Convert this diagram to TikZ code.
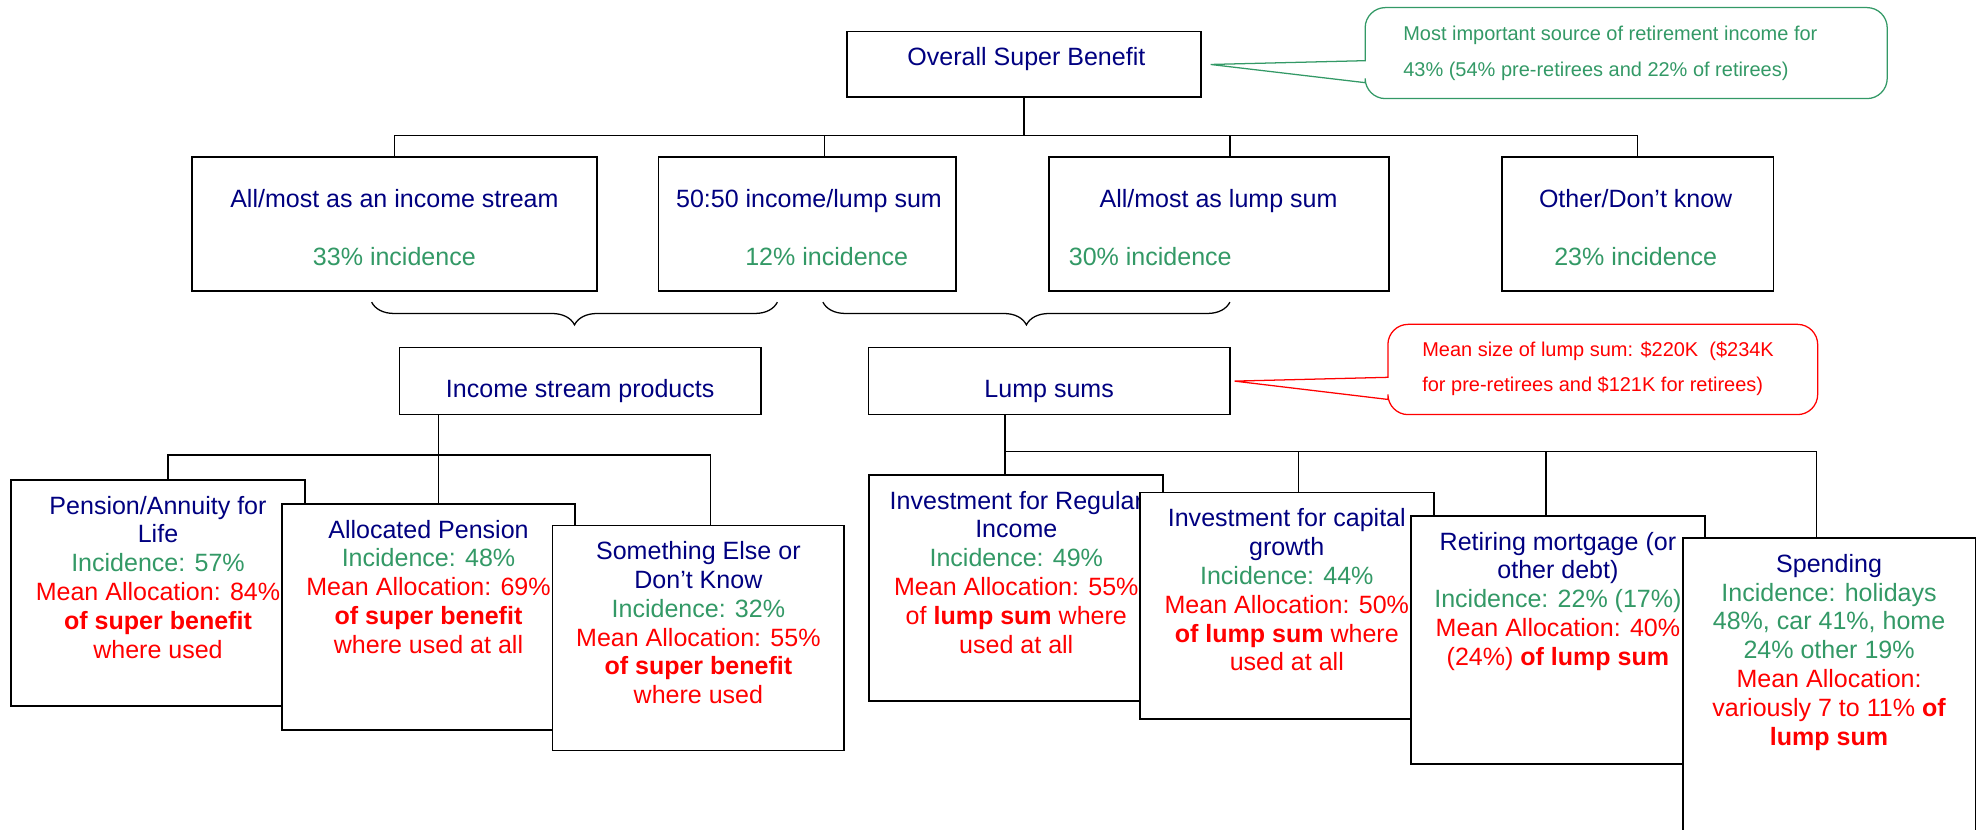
\documentclass[tikz,border=0pt]{standalone}
\usepackage{fontspec}
\setmainfont{Liberation Sans}
\usetikzlibrary{decorations.pathreplacing}
\definecolor{supernavy}{HTML}{000080}
\definecolor{supergreen}{HTML}{339966}
\definecolor{superred}{HTML}{FF0000}
\newcommand{\IncText}[1]{\textcolor{supergreen}{#1}}
\newcommand{\AllocText}[1]{\textcolor{superred}{#1}}
\NewDocumentCommand{\DrawChoiceBox}{m m m m m m m}{%
    % name, centre x, width, x of first line, first line, x of second line, second line
    \node[plainbox, minimum width=#3pt, minimum height=106pt] (#1) at (#2,177) {};
    \node[info] (#1-top) at (#4,164) {#5};
    \node[info, text=supergreen] (#1-bot) at (#6,209.5) {#7};
}
\NewDocumentCommand{\DrawUseBox}{m m m m m m}{%
    % name, centre x, top, width, height, text
    \node[plainbox, anchor=north, minimum width=#4pt, minimum height=#5pt] (#1) at (#2,#3) {};
    \node[info] (#1-text) at (#2,#3+27.5) {\rule{0pt}{15.96pt}#6};
}

\begin{document}
\begin{tikzpicture}[
    x=1pt, y=-1pt,
    plainbox/.style={draw, line width=1.4pt, fill=white, inner sep=0pt},
    % text is placed by the baseline of its first line
    info/.style={inner sep=0pt, align=center, anchor=north, yshift=15.96pt, text=supernavy,
        font=\fontsize{19.8}{22.8}\selectfont, execute at begin node={\rule{0pt}{15.96pt}}},
    note/.style={inner sep=0pt, align=left, anchor=north west, yshift=19.74pt,
        font=\fontsize{15.8}{28.2}\selectfont},
    link/.style={line width=1pt},
    groupbrace/.style={line width=1pt, decorate, decoration={brace, amplitude=18pt}}
    ]
    \path[use as bounding box, clip] (0,0) rectangle (1568,656);

    % top level
    \node[plainbox, minimum width=280pt, minimum height=52pt] (overall) at (810,51) {};
    \node[info] (overall-text) at (812,52) {Overall Super Benefit};

    \DrawChoiceBox{streamall}{312}{320}{312}{All/most as an income stream}{312}{33\% incidence}
    \DrawChoiceBox{streamhalf}{638.5}{235}{640}{50:50 income/lump sum}{654}{12\% incidence}
    \DrawChoiceBox{streamlump}{964.5}{269}{964}{All/most as lump sum}{910}{30\% incidence}
    \DrawChoiceBox{streamother}{1295.5}{215}{1294}{Other/Don’t know}{1294}{23\% incidence}

    \coordinate (topbar) at (810,107);
    \draw[link] (overall.south) -- (overall.south |- topbar);
    \draw[link] (streamall.north) |- (streamother.north |- topbar) -- (streamother.north);
    \draw[link] ([xshift=13.5pt]streamhalf.north) -- ([xshift=13.5pt]streamhalf.north |- topbar);
    \draw[link] ([xshift=8.5pt]streamlump.north) -- ([xshift=8.5pt]streamlump.north |- topbar);

    \draw[groupbrace] (615,239) -- (294,239);
    \draw[groupbrace] (973,239) -- (651,239);

    % second level
    \node[plainbox, minimum width=286pt, minimum height=53pt] (income) at (459,301.5) {};
    \node[info] (income-text) at (459,314) {Income stream products};
    \node[plainbox, minimum width=286pt, minimum height=53pt] (lump) at (830,301.5) {};
    \node[info] (lump-text) at (830,314) {Lump sums};

    % income stream uses
    \DrawUseBox{pension}{125}{379}{232}{179}{Pension/Annuity for\\Life\\\IncText{Incidence: 57\%}\\\AllocText{Mean Allocation: 84\%}\\\AllocText{\textbf{of super benefit}}\\\AllocText{where used}}
    \DrawUseBox{allocated}{339}{398}{232}{179}{Allocated Pension\\\IncText{Incidence: 48\%}\\\AllocText{Mean Allocation: 69\%}\\\AllocText{\textbf{of super benefit}}\\\AllocText{where used at all}}
    \DrawUseBox{otheruse}{552.5}{415}{231}{178}{Something Else or\\Don’t Know\\\IncText{Incidence: 32\%}\\\AllocText{Mean Allocation: 55\%}\\\AllocText{\textbf{of super benefit}}\\\AllocText{where used}}

    \coordinate (ipbar) at (347,360);
    \draw[link] (ipbar |- income.south) -- (ipbar |- allocated.north);
    \draw[link] ([xshift=8pt]pension.north) |- ([xshift=9.5pt]otheruse.north |- ipbar) -- ([xshift=9.5pt]otheruse.north);

    % lump sum uses
    \DrawUseBox{regular}{804}{375}{232.5}{179}{Investment for Regular\\Income\\\IncText{Incidence: 49\%}\\\AllocText{Mean Allocation: 55\%}\\\AllocText{of \textbf{lump sum} where}\\\AllocText{used at all}}
    \DrawUseBox{capital}{1018}{389}{232.5}{179}{Investment for capital\\growth\\\IncText{Incidence: 44\%}\\\AllocText{Mean Allocation: 50\%}\\\AllocText{\textbf{of lump sum} where}\\\AllocText{used at all}}
    \DrawUseBox{mortgage}{1232.5}{407.5}{233}{196.5}{Retiring mortgage (or\\other debt)\\\IncText{Incidence: 22\% (17\%)}\\\AllocText{Mean Allocation: 40\%}\\\AllocText{(24\%) \textbf{of lump sum}}}
    \DrawUseBox{spending}{1447}{425}{231.5}{300}{Spending\\\IncText{Incidence: holidays}\\\IncText{48\%, car 41\%, home}\\\IncText{24\% other 19\%}\\\AllocText{Mean Allocation:}\\\AllocText{variously 7 to 11\% \textbf{of}}\\\AllocText{\textbf{lump sum}}}

    \coordinate (lsbar) at (795,357);
    \draw[link] (lsbar |- lump.south) -- (lsbar |- regular.north);
    \draw[link] (lsbar) -| ([xshift=-10pt]spending.north);
    \draw[link] ([xshift=9pt]capital.north) -- ([xshift=9pt]capital.north |- lsbar);
    \draw[link] ([xshift=-9.5pt]mortgage.north) -- ([xshift=-9.5pt]mortgage.north |- lsbar);

    % callouts
    \draw[supergreen, line width=1pt] (1080,48) [rounded corners=16pt] -- (1080,6) -- (1493,6) -- (1493,78) -- (1080,78) [sharp corners] -- (1080,65.4) -- ([xshift=7pt]overall.east) -- cycle;
    \node[note, text=supergreen] (overall-note) at (1110,32.1) {\rule{0pt}{19.74pt}Most important source of retirement income for\\43\% (54\% pre-retirees and 22\% of retirees)};

    \draw[superred, line width=1pt] (1098,298.5) [rounded corners=16pt] -- (1098,256.6) -- (1438,256.6) -- (1438,328) -- (1098,328) [sharp corners] -- (1098,316) -- ([xshift=3pt]lump.east) -- cycle;
    \node[note, text=superred] (lump-note) at (1125,281.7) {\rule{0pt}{19.74pt}Mean size of lump sum: \$220K\ \ (\$234K\\for pre-retirees and \$121K for retirees)};

\end{tikzpicture}
\end{document}
